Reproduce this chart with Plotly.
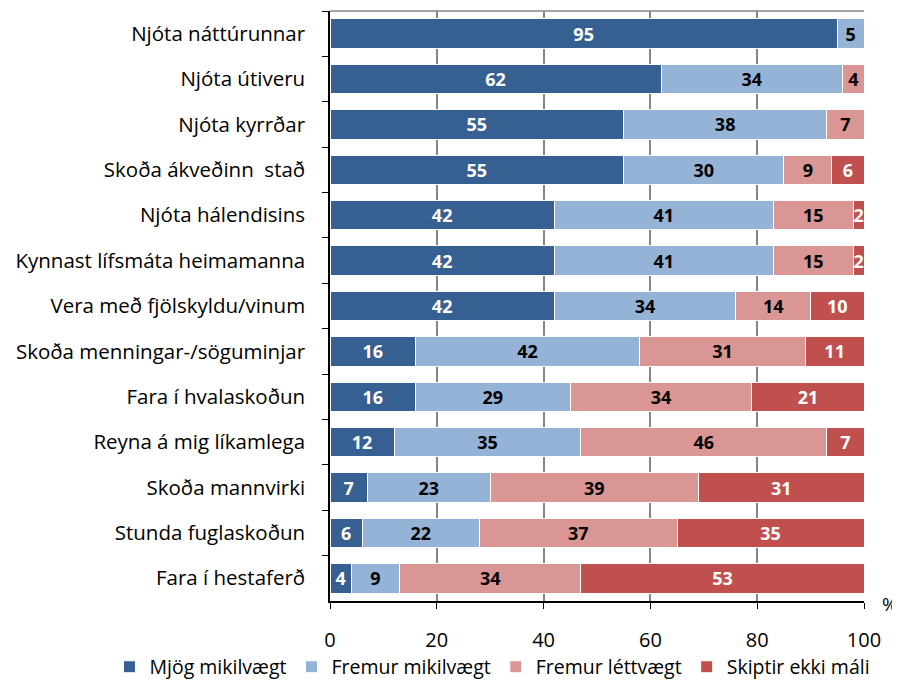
import plotly.graph_objects as go

categories = [
    "Njóta náttúrunnar", "Njóta útiveru", "Njóta kyrrðar", "Skoða ákveðinn  stað",
    "Njóta hálendisins", "Kynnast lífsmáta heimamanna", "Vera með fjölskyldu/vinum",
    "Skoða menningar-/söguminjar", "Fara í hvalaskoðun", "Reyna á mig líkamlega",
    "Skoða mannvirki", "Stunda fuglaskoðun", "Fara í hestaferð",
]
mjog_mikilvaegt = [95, 62, 55, 55, 42, 42, 42, 16, 16, 12, 7, 6, 4]
fremur_mikilvaegt = [5, 34, 38, 30, 41, 41, 34, 42, 29, 35, 23, 22, 9]
fremur_lettvaegt = [0, 4, 7, 9, 15, 15, 14, 31, 34, 46, 39, 37, 34]
skiptir_ekki = [0, 0, 0, 6, 2, 2, 10, 11, 21, 7, 31, 35, 53]

series = [
    ("Mjög mikilvægt", mjog_mikilvaegt, "#376092", "white"),
    ("Fremur mikilvægt", fremur_mikilvaegt, "#95B3D7", "black"),
    ("Fremur léttvægt", fremur_lettvaegt, "#D99694", "black"),
    ("Skiptir ekki máli", skiptir_ekki, "#C0504D", "white"),
]

FONT = "Open Sans"

fig = go.Figure()
for name, vals, color, tcolor in series:
    fig.add_trace(go.Bar(
        y=categories, x=vals, name=name, orientation="h",
        marker=dict(color=color, line=dict(color="white", width=1)),
        text=[str(v) if v else "" for v in vals],
        textposition="inside", insidetextanchor="middle", textangle=0,
        constraintext="none",
        textfont=dict(family=FONT, size=18, color=tcolor, weight="bold"),
    ))

fig.update_layout(
    barmode="stack", bargap=0.35,
    width=900, height=682,
    margin=dict(l=322, r=44, t=3, b=84),
    plot_bgcolor="white", paper_bgcolor="white",
    font=dict(family=FONT, size=20.5, color="black"),
    legend=dict(orientation="h", x=-0.413, xanchor="left", y=-0.112, yanchor="middle",
                font=dict(size=19.5), itemwidth=30, traceorder="normal"),
    xaxis=dict(range=[0, 100], tickvals=[0, 20, 40, 60, 80, 100],
               showgrid=True, gridcolor="#868686", gridwidth=1.5,
               showline=True, linecolor="black", linewidth=1.5,
               ticks="outside", ticklen=6, tickcolor="black",
               ticklabelstandoff=14, tickfont=dict(size=20), zeroline=False),
    yaxis=dict(autorange="reversed", showline=True, linecolor="black", linewidth=1.5,
               ticks="outside", ticklen=6, tickcolor="black", tickson="boundaries",
               showgrid=False, ticklabelstandoff=19),
    shapes=[dict(type="line", xref="paper", yref="paper", x0=0, x1=1, y0=1, y1=1,
                 line=dict(color="#868686", width=1.5))],
    annotations=[dict(text="%", xref="paper", yref="paper", x=1.049, y=-0.005,
                      showarrow=False, font=dict(size=19), xanchor="center", yanchor="middle")],
)

fig.write_html("out.html")
